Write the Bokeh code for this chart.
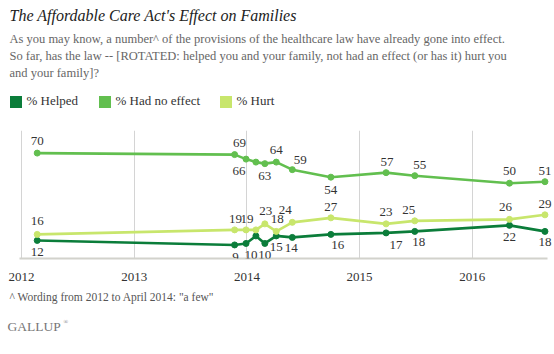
from datetime import datetime
from bokeh.plotting import figure
from bokeh.layouts import column
from bokeh.models import (Range1d, FixedTicker, DatetimeTickFormatter,
                          ColumnDataSource, LabelSet, Legend, LegendItem)
from bokeh.core.properties import value
from bokeh.embed import file_html
from bokeh.resources import INLINE

# ---------------- data ----------------
dates = [datetime(2012, 2, 21), datetime(2013, 11, 22), datetime(2013, 12, 29),
         datetime(2014, 1, 30), datetime(2014, 2, 28), datetime(2014, 4, 6),
         datetime(2014, 5, 28), datetime(2014, 9, 30), datetime(2015, 3, 28),
         datetime(2015, 6, 29), datetime(2016, 5, 1), datetime(2016, 8, 24)]
helped    = [12, 9, 10, 15, 10, 15, 14, 16, 17, 18, 22, 18]
no_effect = [70, 69, 66, 64, 63, 64, 59, 54, 57, 55, 50, 51]
hurt      = [16, 19, 19, 19, 23, 18, 24, 27, 23, 25, 26, 29]
series_names = ["% Helped", "% Had no effect", "% Hurt"]
year_ticks = [2012, 2013, 2014, 2015, 2016]

title_text = "The Affordable Care Act's Effect on Families"
subtitle_lines = [
    "As you may know, a number^ of the provisions of the healthcare law have already gone into effect.",
    "So far, has the law -- [ROTATED: helped you and your family, not had an effect (or has it) hurt you",
    "and your family]?",
]
footnote = "^ Wording from 2012 to April 2014: \"a few\""
brand = "GALLUP"

# ---------------- label placement (screen px offsets) ----------------
shown = [True, True, True, False, True, True, True, True, True, True, True, True]
ne_dx = [0, 5, -7, 0, 0, 0, 8, 0, 1, 5, 0, 0]
ne_dy = [12, 12, -12, 0, -12, 12, 10, -13, 11, 11, 12, 11]
hu_dx = [0, 1, 1, 0, 1, 1, -7, 0, 0, -6, -4, 0]
hu_dy = [13, 11, 11, 0, 13, 12, 12, 11, 12, 11, 12, 11]
he_dx = [0, 1, 5, 0, 0, 0, -1, 7, 10, 4, 0, 0]
he_dy = [-12, -12, -12, 0, -12, -11, -11, -11, -12, -11, -12, -11]

C_HELP = "#0b7d3a"
C_NONE = "#62bf4f"
C_HURT = "#c8e66c"
COLORS = [C_HELP, C_NONE, C_HURT]

FONT = "Liberation Serif"
W = 554
HEAD_H, MAIN_H, FOOT_H = 122, 166, 66


def blank(h):
    # data x == canvas pixel x, data y == pixel y from the figure's top
    f = figure(width=W, height=h, x_range=Range1d(0, W), y_range=Range1d(h, 0),
               output_backend="svg", toolbar_location=None,
               x_axis_location=None, y_axis_location=None,
               min_border_left=0, min_border_right=0,
               min_border_top=0, min_border_bottom=0)
    f.outline_line_color = None
    f.xgrid.visible = False
    f.ygrid.visible = False
    return f


# ---------------- header ----------------
head = blank(HEAD_H)
head.text(x=[9], y=[15], text=[title_text], text_font=value(FONT),
          text_font_size="16px", text_font_style="italic", text_color="#222222",
          text_baseline="middle")
head.text(x=[9] * len(subtitle_lines),
          y=[38 + i * 17.3 for i in range(len(subtitle_lines))],
          text=subtitle_lines, text_font=value(FONT), text_font_size="12.5px",
          text_color="#666666", text_baseline="middle")

leg_square_left = [9, 98, 219]
for name, col, lx in zip(series_names, COLORS, leg_square_left):
    r = head.quad(left=[float("nan")], right=[float("nan")],
                  top=[float("nan")], bottom=[float("nan")],
                  fill_color=col, line_color=None)
    leg = Legend(items=[LegendItem(label=name, renderers=[r])],
                 location=(lx - 1.5, 13),
                 glyph_width=15, glyph_height=15, label_height=15, label_standoff=4,
                 padding=0, margin=0, border_line_color=None,
                 background_fill_alpha=0, label_text_font=FONT,
                 label_text_font_size="13px", label_text_color="#333333")
    head.add_layout(leg)

# ---------------- main chart ----------------
FT = 8
p = figure(width=W, height=MAIN_H, x_axis_type="datetime", y_axis_location=None,
           output_backend="svg", toolbar_location=None,
           x_range=Range1d(datetime(2011, 10, 25), datetime(2016, 9, 24)),
           y_range=Range1d(0, 85),
           min_border_left=0, min_border_right=0,
           min_border_top=FT, min_border_bottom=MAIN_H - FT - 128)
p.outline_line_color = None

tick_ms = [datetime(y, 1, 1).timestamp() * 1000 for y in year_ticks]
p.xaxis.ticker = FixedTicker(ticks=tick_ms)
p.xaxis.formatter = DatetimeTickFormatter(years="%Y", months="%Y", days="%Y",
                                          hours="%Y", minutes="%Y", seconds="%Y",
                                          milliseconds="%Y", microseconds="%Y")
p.xaxis.bounds = (datetime(2011, 12, 25), datetime(2016, 9, 1))
p.xaxis.axis_line_color = "#d2d2cc"
p.xaxis.axis_line_width = 2
p.xaxis.major_tick_line_color = None
p.xaxis.minor_tick_line_color = None
p.xaxis.major_label_standoff = 8
p.xaxis.major_label_text_font = FONT
p.xaxis.major_label_text_font_size = "13px"
p.xaxis.major_label_text_color = "#333333"
p.xgrid.grid_line_color = "#d4d4d4"
p.xgrid.grid_line_width = 1
p.ygrid.visible = False

for vals, col, dx, dy in [(helped, C_HELP, he_dx, he_dy),
                          (hurt, C_HURT, hu_dx, hu_dy),
                          (no_effect, C_NONE, ne_dx, ne_dy)]:
    src = ColumnDataSource(dict(x=dates, y=vals))
    p.line("x", "y", source=src, line_color=col, line_width=2.6)
    p.scatter("x", "y", source=src, size=6, fill_color=col, line_color=col)
    lsrc = ColumnDataSource(dict(
        x=[d for d, s in zip(dates, shown) if s],
        y=[v for v, s in zip(vals, shown) if s],
        t=[str(v) for v, s in zip(vals, shown) if s],
        dx=[o for o, s in zip(dx, shown) if s],
        dy=[o for o, s in zip(dy, shown) if s]))
    p.add_layout(LabelSet(x="x", y="y", text="t", source=lsrc,
                          x_offset="dx", y_offset="dy",
                          text_align="center", text_baseline="middle",
                          text_font=FONT, text_font_size="13px",
                          text_color="#333333"))

# ---------------- footer ----------------
foot = blank(FOOT_H)
foot.text(x=[9], y=[8], text=[footnote], text_font=value(FONT),
          text_font_size="11.5px", text_color="#555555", text_baseline="middle")
foot.text(x=[7], y=[38], text=[brand], text_font=value(FONT),
          text_font_size="13.5px", text_color="#777777", text_baseline="middle")
foot.text(x=[63], y=[33], text=["®"], text_font=value(FONT),
          text_font_size="6px", text_color="#777777", text_baseline="middle")

layout = column(head, p, foot, spacing=0)
open("out.html", "w").write(file_html(layout, INLINE))
